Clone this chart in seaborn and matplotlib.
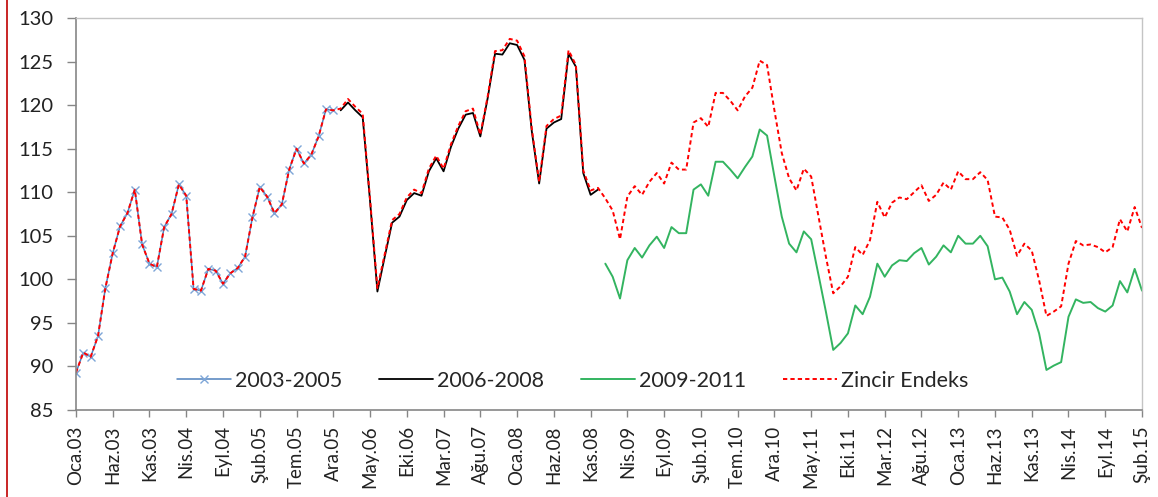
import numpy as np
import pandas as pd
import matplotlib
matplotlib.use("Agg")
import matplotlib.pyplot as plt
import seaborn as sns
from matplotlib.lines import Line2D

# ----------------------------------------------------------
# Data (monthly, Oca.03 - Şub.15)
# ----------------------------------------------------------

tick_labels = [
    "Oca.03", "Haz.03", "Kas.03", "Nis.04", "Eyl.04", "Şub.05",
    "Tem.05", "Ara.05", "May.06", "Eki.06", "Mar.07", "Ağu.07",
    "Oca.08", "Haz.08", "Kas.08", "Nis.09", "Eyl.09", "Şub.10",
    "Tem.10", "Ara.10", "May.11", "Eki.11", "Mar.12", "Ağu.12",
    "Oca.13", "Haz.13", "Kas.13", "Nis.14", "Eyl.14", "Şub.15",
]

s_2003_2005 = [
    89.3, 91.6, 91.1, 93.5, 99.0, 103.0, 106.1, 107.6, 110.3, 104.0, 101.8, 101.4,
    106.0, 107.5, 110.9, 109.6, 98.9, 98.7, 101.2, 101.0, 99.5, 100.7, 101.3, 102.6,
    107.1, 110.6, 109.5, 107.6, 108.6, 112.6, 115.0, 113.3, 114.3, 116.4, 119.5, 119.4,
]

s_2006_2008 = [
    119.4, 120.3, 119.4, 118.6, 109.0, 98.6, 102.6, 106.5, 107.2, 109.1, 109.9, 109.6,
    112.4, 113.9, 112.4, 115.2, 117.3, 118.9, 119.1, 116.4, 120.8, 125.9, 125.8, 127.1,
    126.9, 125.2, 117.0, 111.0, 117.3, 118.0, 118.4, 125.9, 124.4, 112.2, 109.7, 110.3,
]

s_2009_2011 = [
    101.8, 100.3, 97.8, 102.2, 103.6, 102.5, 103.9, 104.9, 103.6, 106.0, 105.3, 105.3,
    110.3, 110.9, 109.6, 113.5, 113.5, 112.6, 111.6, 112.9, 114.1, 117.2, 116.5, 111.8,
    107.2, 104.1, 103.1, 105.5, 104.6, 100.5, 96.3, 91.9, 92.7, 93.8, 97.0, 96.0,
    98.0, 101.8, 100.3, 101.6, 102.2, 102.1, 103.0, 103.6, 101.7, 102.6, 103.9, 103.1,
    105.0, 104.1, 104.1, 105.0, 103.8, 100.0, 100.2, 98.6, 96.0, 97.4, 96.5, 93.8,
    89.6, 90.1, 90.5, 95.7, 97.7, 97.3, 97.4, 96.7, 96.3, 97.0, 99.8, 98.5,
    101.2, 98.7,
]

zincir = [
    89.3, 91.6, 91.1, 93.5, 99.0, 103.0, 106.1, 107.6, 110.3, 104.0, 101.8, 101.4,
    106.0, 107.5, 110.9, 109.6, 98.9, 98.7, 101.2, 101.0, 99.5, 100.7, 101.3, 102.6,
    107.1, 110.6, 109.5, 107.6, 108.6, 112.6, 115.0, 113.3, 114.3, 116.4, 119.5, 119.4,
    119.6, 120.7, 119.8, 119.0, 109.2, 99.0, 102.9, 106.8, 107.5, 109.4, 110.3, 109.9,
    112.7, 114.2, 112.7, 115.5, 117.6, 119.3, 119.6, 116.6, 121.0, 126.2, 126.3, 127.6,
    127.4, 125.6, 117.3, 111.2, 117.6, 118.4, 118.8, 126.3, 124.6, 112.5, 110.2, 110.5,
    109.3, 107.9, 104.6, 109.5, 110.7, 109.7, 111.2, 112.2, 111.0, 113.4, 112.6, 112.6,
    118.0, 118.5, 117.5, 121.4, 121.4, 120.5, 119.4, 121.0, 122.0, 125.1, 124.6, 119.4,
    114.5, 111.6, 110.2, 112.7, 111.8, 107.2, 102.6, 98.4, 99.2, 100.3, 103.7, 102.8,
    104.5, 108.9, 107.1, 108.8, 109.4, 109.2, 110.0, 110.8, 109.0, 109.7, 111.1, 110.3,
    112.4, 111.5, 111.5, 112.3, 111.4, 107.2, 107.1, 105.7, 102.7, 104.1, 103.3, 99.9,
    95.8, 96.3, 96.9, 101.8, 104.4, 103.9, 104.0, 103.7, 103.1, 103.7, 106.9, 105.5,
    108.3, 105.9,
]

# ----------------------------------------------------------
# Frames
# ----------------------------------------------------------

n1 = len(s_2003_2005)
n2 = len(s_2006_2008)

df1 = pd.DataFrame({"t": np.arange(0, n1), "v": s_2003_2005})
df2 = pd.DataFrame({"t": np.arange(n1, n1 + n2), "v": s_2006_2008})
df3 = pd.DataFrame({"t": np.arange(n1 + n2, n1 + n2 + len(s_2009_2011)), "v": s_2009_2011})
df4 = pd.DataFrame({"t": np.arange(len(zincir)), "v": zincir})

# ----------------------------------------------------------
# Style
# ----------------------------------------------------------

sns.set_theme(style="white")
plt.rcParams["font.family"] = ["Lato", "DejaVu Sans"]

fig = plt.figure(figsize=(11.58, 4.97), dpi=100)
ax = fig.add_axes([0.0656, 0.175, 0.9206, 0.7888])

# ----------------------------------------------------------
# Lines
# ----------------------------------------------------------

sns.lineplot(data=df1, x="t", y="v", ax=ax, color="#4f81bd", lw=1.1,
             marker="x", markersize=6, markeredgewidth=1.0,
             markeredgecolor="#7ea6d8", label="2003-2005")
sns.lineplot(data=df2, x="t", y="v", ax=ax, color="black", lw=1.3,
             label="2006-2008")
sns.lineplot(data=df3, x="t", y="v", ax=ax, color="#33b460", lw=1.4,
             label="2009-2011")
sns.lineplot(data=df4, x="t", y="v", ax=ax, color="#ff0000", lw=1.4,
             linestyle=(0, (2.2, 1.6)), label="Zincir Endeks")

# ----------------------------------------------------------
# Axes
# ----------------------------------------------------------

ax.set_xlim(0, len(zincir) - 1)
ax.set_ylim(85, 130)
ax.set_yticks(np.arange(85, 131, 5))
ax.set_xticks(np.arange(0, len(zincir), 5))
ax.set_xticklabels(tick_labels, rotation=90)
ax.set_xlabel("")
ax.set_ylabel("")

ax.tick_params(axis="y", labelsize=14.5, length=6.5, width=1, color="#868686",
               direction="out", left=True, labelcolor="#222222", pad=10)
ax.tick_params(axis="x", labelsize=13.5, length=5, width=1, color="#868686",
               direction="out", bottom=True, labelcolor="#222222", pad=6)

for side in ["left", "bottom"]:
    ax.spines[side].set_color("#868686")
    ax.spines[side].set_linewidth(1.2)
for side in ["top", "right"]:
    ax.spines[side].set_color("#c4c4c4")
    ax.spines[side].set_linewidth(1.0)

ax.legend(loc="center", bbox_to_anchor=(0.466, 0.074), ncol=4, frameon=False,
          fontsize=15.5, handlelength=2.5, handletextpad=0.2,
          columnspacing=1.7, numpoints=1)

# dark red frame line at the left edge
fig.add_artist(Line2D([0.006, 0.006], [0, 1], transform=fig.transFigure,
                      color="#c00000", lw=1.2))

fig.savefig("out.png", dpi=100)
